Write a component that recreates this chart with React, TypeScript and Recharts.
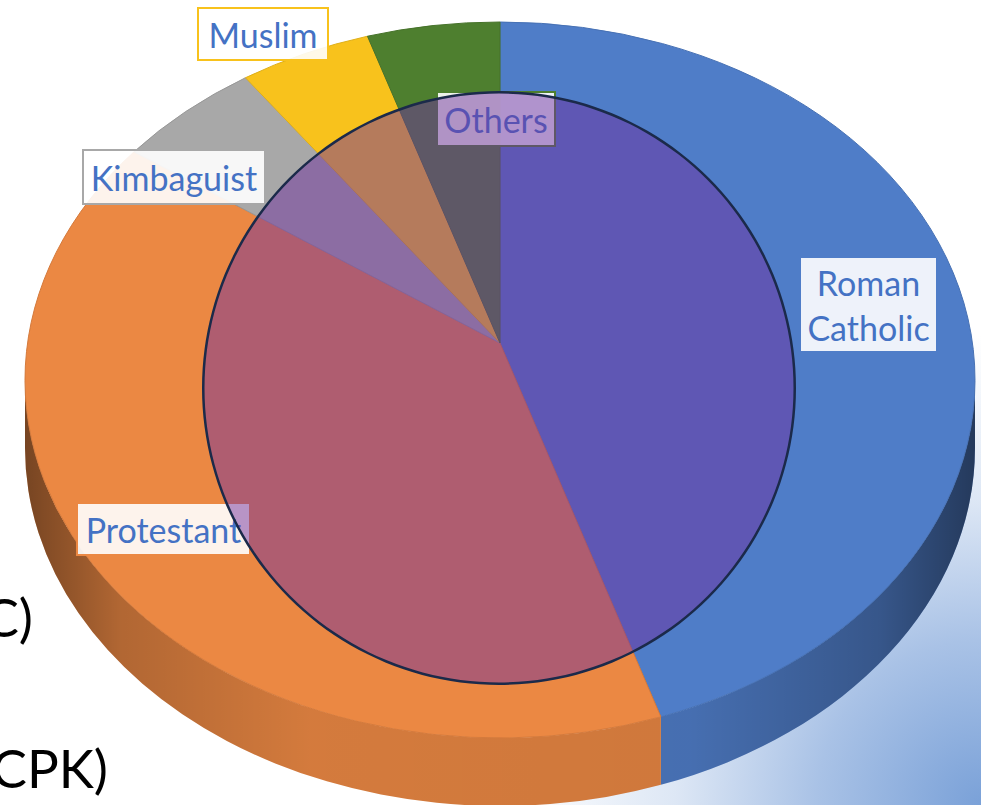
import { PieChart, Pie, Cell } from "recharts";

const religions = ["Roman Catholic", "Protestant", "Kimbaguist", "Muslim", "Others"];
const shares = [44.5, 41.5, 5, 4.5, 4.5];
const colors = ["#4f7dc8", "#eb8843", "#a8a8a8", "#f8c21c", "#4e7f2f"];
const labelLines = [["Roman", "Catholic"], ["Protestant"], ["Kimbaguist"], ["Muslim"], ["Others"]];

const data = religions.map((name, i) => ({ name, value: shares[i] }));
const focus = [{ name: "focus", value: 1 }];

// pie geometry (tilted disc)
const CX = 500;
const CY = 380;
const RX = 475;
const RY = 358;
const APEX_LIFT = 37;
const DEPTH = 68;

// label boxes: x, y, w, h
const LABEL_BOX: Record<string, number[]> = {
  "Roman Catholic": [800, 257, 137, 95],
  Protestant: [77, 503, 173, 52],
  Kimbaguist: [83, 150, 182, 54],
  Muslim: [198, 8, 130, 52],
  Others: [437, 92, 118, 54],
};

function shade(hex: string, f: number) {
  const n = parseInt(hex.slice(1), 16);
  const c = [(n >> 16) & 255, (n >> 8) & 255, n & 255].map((v) => Math.round(v * f));
  return `rgb(${c[0]},${c[1]},${c[2]})`;
}

function Slice3D(props: any) {
  const { cx, cy, outerRadius, startAngle, endAngle, fill, index } = props;
  const rx = outerRadius;
  const ry = (outerRadius * RY) / RX;
  const pt = (a: number, dy = 0) => {
    const r = (a * Math.PI) / 180;
    return [cx + rx * Math.cos(r), cy - ry * Math.sin(r) + dy];
  };
  const s = pt(startAngle);
  const e = pt(endAngle);
  const large = Math.abs(startAngle - endAngle) > 180 ? 1 : 0;
  const top = `M${cx},${cy - APEX_LIFT} L${s[0]},${s[1]} A${rx},${ry} 0 ${large} 1 ${e[0]},${e[1]} Z`;

  // front wall only where the rim faces the viewer
  const hi = Math.min(Math.max(startAngle, endAngle), 0);
  const lo = Math.max(Math.min(startAngle, endAngle), -180);
  let side: string | null = null;
  if (hi > lo) {
    const p1 = pt(hi);
    const p2 = pt(lo);
    const lg = hi - lo > 180 ? 1 : 0;
    side =
      `M${p1[0]},${p1[1]} A${rx},${ry} 0 ${lg} 1 ${p2[0]},${p2[1]} ` +
      `L${p2[0]},${p2[1] + DEPTH} A${rx},${ry} 0 ${lg} 0 ${p1[0]},${p1[1] + DEPTH} Z`;
  }

  return (
    <g>
      {index === 0 && (
        <defs>
          <linearGradient id="sideShade" gradientUnits="userSpaceOnUse" x1={cx - rx} y1={0} x2={cx + rx} y2={0}>
            <stop offset="0" stopColor="#000" stopOpacity={0.45} />
            <stop offset="0.1" stopColor="#000" stopOpacity={0.18} />
            <stop offset="0.3" stopColor="#000" stopOpacity={0.02} />
            <stop offset="0.7" stopColor="#000" stopOpacity={0.04} />
            <stop offset="0.9" stopColor="#000" stopOpacity={0.25} />
            <stop offset="1" stopColor="#000" stopOpacity={0.5} />
          </linearGradient>
        </defs>
      )}
      {side && (
        <>
          <path d={side} fill={shade(fill, 0.92)} />
          <path d={side} fill="url(#sideShade)" />
        </>
      )}
      <path d={top} fill={fill} stroke={shade(fill, 0.9)} strokeWidth={1} />
    </g>
  );
}

function renderLabel(p: any) {
  const name = p.name ?? p.payload?.name;
  const box = LABEL_BOX[name];
  if (!box) return null;
  const [x, y, w, h] = box;
  const i = religions.indexOf(name);
  const lines = labelLines[i];
  return (
    <g key={name}>
      <rect x={x} y={y} width={w} height={h} fill="#ffffff" fillOpacity={0.9} stroke={colors[i]} strokeWidth={2} />
      {lines.map((l, k) => (
        <text
          key={l}
          x={x + w / 2}
          y={y + h / 2 + (k - (lines.length - 1) / 2) * 45}
          textAnchor="middle"
          dominantBaseline="central"
          fontFamily="Lato, 'Open Sans', sans-serif"
          fontSize={34}
          fill="#4472c4"
        >
          {l}
        </text>
      ))}
    </g>
  );
}

export default function App() {
  return (
    <div
      style={{
        position: "absolute",
        left: 0,
        top: 0,
        width: 981,
        height: 805,
        overflow: "hidden",
        background:
          "radial-gradient(circle 470px at 100% 100%, #7aa1d8 0%, #a9c2e6 35%, #dde7f5 65%, #ffffff 100%)",
      }}
    >
      {/* slide text running off the left edge */}
      <svg width={981} height={805} style={{ position: "absolute", left: 0, top: 0 }}>
        <text x={33} y={637} textAnchor="end" fontFamily="Lato, sans-serif" fontSize={53} fill="#000">
          C)
        </text>
        <text x={108} y={788} textAnchor="end" fontFamily="Lato, sans-serif" fontSize={53} fill="#000">
          CPK)
        </text>
      </svg>

      <div style={{ position: "absolute", left: 0, top: 0 }}>
        <PieChart width={981} height={805} margin={{ top: 0, right: 0, bottom: 0, left: 0 }}>
          <Pie
            data={data}
            dataKey="value"
            nameKey="name"
            cx={CX}
            cy={CY}
            outerRadius={RX}
            startAngle={90}
            endAngle={-270}
            stroke="none"
            shape={Slice3D}
            label={renderLabel}
            labelLine={false}
            isAnimationActive={false}
          >
            {data.map((d, i) => (
              <Cell key={d.name} fill={colors[i]} />
            ))}
          </Pie>
        </PieChart>
      </div>

      {/* translucent highlight disc on top */}
      <div style={{ position: "absolute", left: 0, top: 0, pointerEvents: "none" }}>
        <PieChart width={981} height={805} margin={{ top: 0, right: 0, bottom: 0, left: 0 }}>
          <Pie
            data={focus}
            dataKey="value"
            cx={499}
            cy={388}
            outerRadius={296}
            fill="#7030a0"
            fillOpacity={0.49}
            stroke="none"
            isAnimationActive={false}
          />
          <Pie
            data={focus}
            dataKey="value"
            cx={499}
            cy={388}
            innerRadius={294.5}
            outerRadius={297}
            fill="#1b2a4a"
            stroke="none"
            isAnimationActive={false}
          />
        </PieChart>
      </div>
    </div>
  );
}
